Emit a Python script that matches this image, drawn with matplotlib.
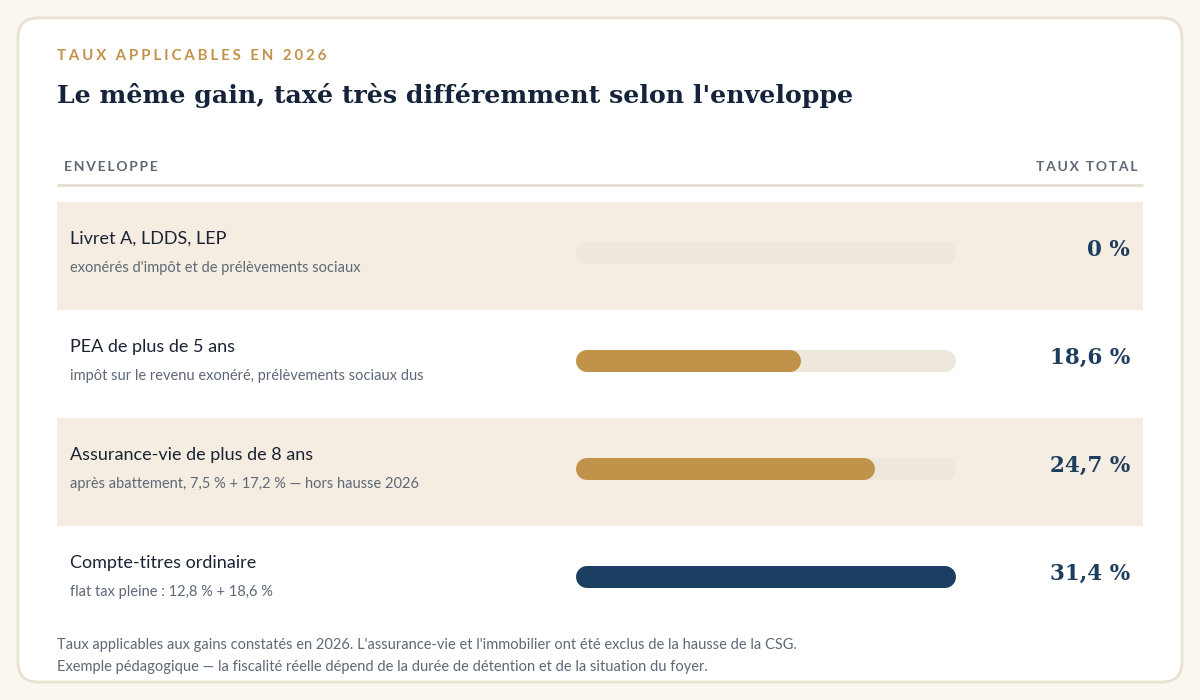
import matplotlib.pyplot as plt
from matplotlib.patches import FancyBboxPatch, Rectangle

# data
enveloppes = ["Livret A, LDDS, LEP", "PEA de plus de 5 ans",
              "Assurance-vie de plus de 8 ans", "Compte-titres ordinaire"]
details = ["exonérés d'impôt et de prélèvements sociaux",
           "impôt sur le revenu exonéré, prélèvements sociaux dus",
           "après abattement, 7,5 % + 17,2 % — hors hausse 2026",
           "flat tax pleine : 12,8 % + 18,6 %"]
taux = [0.0, 18.6, 24.7, 31.4]
bar_colors = ["#c0924a", "#c0924a", "#c0924a", "#1d3e63"]
notes = ["Taux applicables aux gains constatés en 2026. L'assurance-vie et l'immobilier ont été exclus de la hausse de la CSG.",
         "Exemple pédagogique — la fiscalité réelle dépend de la durée de détention et de la situation du foyer."]

SANS = ["Lato", "DejaVu Sans"]
SERIF = ["DejaVu Serif"]
NAVY = "#15233b"
GREY = "#5e6877"
GOLD = "#c0924a"
SHADE = "#f5ede1"
TRACK = "#eee7dc"


def spaced(s, sep="\u2009"):
    return sep.join(s)


def fmt(t):
    s = f"{t:.1f}".replace(".", ",")
    return ("0" if t == 0 else s) + " %"


fig = plt.figure(figsize=(12, 7), dpi=100)
fig.patch.set_facecolor("#faf7f0")

# layout axes in pixel coordinates
ax = fig.add_axes([0, 0, 1, 1])
ax.set_xlim(0, 1200)
ax.set_ylim(700, 0)
ax.axis("off")

ax.add_patch(FancyBboxPatch((18, 18), 1164, 664, boxstyle="round,pad=0,rounding_size=20",
                            facecolor="white", edgecolor="#e9e1d2", linewidth=2))

ax.text(57, 56, spaced("TAUX APPLICABLES EN 2026", "\u2009\u200a"), family=SANS,
        fontsize=10.8, fontweight="bold", color=GOLD, va="center")
ax.text(57, 95, "Le même gain, taxé très différemment selon l'enveloppe", family=SERIF,
        fontsize=18.2, fontweight="bold", color=NAVY, va="center")

ax.text(64, 167, spaced("ENVELOPPE"), family=SANS, fontsize=10, fontweight="bold",
        color=GREY, va="center")
ax.text(1138, 167, spaced("TAUX TOTAL"), family=SANS, fontsize=10, fontweight="bold",
        color=GREY, va="center", ha="right")
ax.plot([57, 1143], [185, 185], color="#e6dfd2", lw=2, solid_capstyle="butt")

row_top = 202
row_h = 108
for i, (nom, det, t) in enumerate(zip(enveloppes, details, taux)):
    y0 = row_top + i * row_h
    if i % 2 == 0:
        ax.add_patch(Rectangle((57, y0), 1086, row_h, facecolor=SHADE, edgecolor="none"))
    ax.text(70, y0 + 37, nom, family=SANS, fontsize=13, color="#1a2233", va="center")
    ax.text(70, y0 + 66, det, family=SANS, fontsize=10.5, color=GREY, va="center")
    ax.text(1130, y0 + 48, fmt(t), family=SERIF, fontsize=15.5, fontweight="bold",
            color="#1d3d5e", va="center", ha="right")

for i, note in enumerate(notes):
    ax.text(57, 645 + i * 22, note, family=SANS, fontsize=10.5, color=GREY, va="center")

# bar axes: track from x=576 to 956 px, scale 0..max rate
bx = fig.add_axes([576 / 1200, (700 - 634) / 700, 380 / 1200, 432 / 700])
bx.set_xlim(0, max(taux))
bx.set_ylim(len(taux) - 0.5, -0.5)
bx.axis("off")
bx.patch.set_alpha(0)

lw_px = 22
lw_pt = lw_px * 72 / 100
r = (lw_px / 2) * max(taux) / 380  # cap radius in data units
for i, (t, c) in enumerate(zip(taux, bar_colors)):
    y = i - 0.028
    bx.plot([r, max(taux) - r], [y, y], color=TRACK, lw=lw_pt, solid_capstyle="round")
    if t > 0:
        bx.plot([r, t - r], [y, y], color=c, lw=lw_pt, solid_capstyle="round")

fig.savefig("out.png", dpi=100, facecolor=fig.get_facecolor())
